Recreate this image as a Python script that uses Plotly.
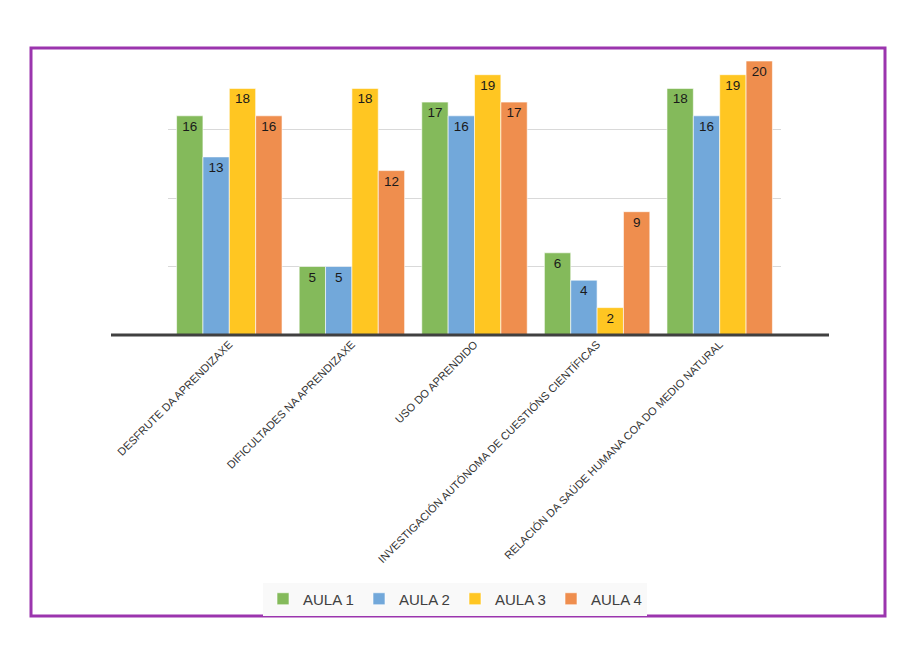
import plotly.graph_objects as go

categories = ["DESFRUTE DA APRENDIZAXE", "DIFICULTADES NA APRENDIZAXE", "USO DO APRENDIDO",
              "INVESTIGACIÓN AUTÓNOMA DE CUESTIÓNS CIENTÍFICAS",
              "RELACIÓN DA SAÚDE HUMANA COA DO MEDIO NATURAL"]
aula1 = [16, 5, 17, 6, 18]
aula2 = [13, 5, 16, 4, 16]
aula3 = [18, 18, 19, 2, 19]
aula4 = [16, 12, 17, 9, 20]
series_names = ["AULA 1", "AULA 2", "AULA 3", "AULA 4"]
colors = ["#84BA5B", "#72A8DA", "#FFC622", "#EF8E4E"]

fig = go.Figure()
for name, vals, col in zip(series_names, [aula1, aula2, aula3, aula4], colors):
    fig.add_trace(go.Bar(
        x=categories, y=vals, name=name,
        marker=dict(color=col, line=dict(color="rgba(255,255,255,0.6)", width=1)),
        text=vals, textposition="inside", insidetextanchor="end", textangle=0,
        textfont=dict(family="Liberation Sans, Arial", size=13.5, color="#1a1a1a"),
    ))

# page body adds an 8px offset, so work in screen pixels and subtract it
OFF = 8
W, H = 915 - OFF, 667 - OFF
L, R, T, B = 168 - OFF, 781 - OFF, 61 - OFF, 335 - OFF
pw, ph = R - L, B - T


def px_x(v):
    return (v - OFF - L) / pw


def px_y(v):
    return (B - (v - OFF)) / ph


fig.update_layout(
    width=W, height=H,
    margin=dict(l=L, r=W - R, t=T, b=H - B),
    paper_bgcolor="white", plot_bgcolor="white",
    barmode="group", bargap=0.14, bargroupgap=0,
    font=dict(family="Liberation Sans, Arial", color="#404040"),
    showlegend=True,
    legend=dict(orientation="h", x=px_x(455), xanchor="center", y=px_y(599), yanchor="middle",
                bgcolor="#F9F9F9", font=dict(size=15, color="#404040"),
                entrywidth=51, traceorder="normal"),
    shapes=[
        dict(type="rect", xref="paper", yref="paper",
             x0=px_x(31), x1=px_x(885), y0=px_y(616), y1=px_y(48),
             line=dict(color="#9B35AE", width=3), layer="above"),
        dict(type="line", xref="paper", yref="paper",
             x0=px_x(111), x1=px_x(829), y0=px_y(335), y1=px_y(335),
             line=dict(color="#404040", width=3), layer="above"),
    ],
)
fig.update_xaxes(tickangle=-45, tickfont=dict(size=11, color="#333333"),
                 showline=False, ticks="", showgrid=False)
fig.update_yaxes(range=[0, 20], tickvals=[5, 10, 15], showticklabels=False,
                 showgrid=True, gridcolor="#D9D9D9", gridwidth=1, zeroline=False)

fig.write_html("out.html")
